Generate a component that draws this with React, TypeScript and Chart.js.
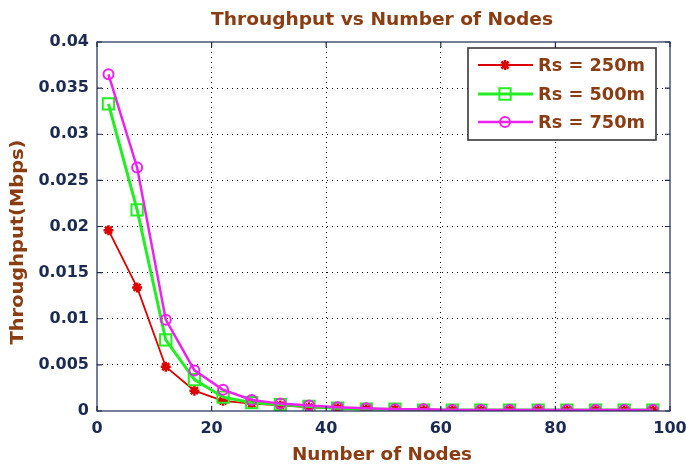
import React, { useEffect, useRef } from "react";
import { Chart, registerables } from "chart.js";

Chart.register(...registerables);

const nodes = [2, 7, 12, 17, 22, 27, 32, 37, 42, 47, 52, 57, 62, 67, 72, 77, 82, 87, 92, 97];
const rs250 = [0.0196, 0.0134, 0.0048, 0.0022, 0.0011, 0.0008, 0.0006, 0.0004, 0.0003, 0.0002, 0.0002, 0.0001, 0.0001, 0.0001, 0.0001, 0.0001, 0.0001, 0.0001, 0.0001, 0.0001];
const rs500 = [0.0333, 0.0218, 0.0077, 0.0034, 0.0015, 0.0009, 0.0007, 0.0005, 0.0003, 0.0002, 0.0002, 0.0001, 0.0001, 0.0001, 0.0001, 0.0001, 0.0001, 0.0001, 0.0001, 0.0001];
const rs750 = [0.0365, 0.0264, 0.0099, 0.0044, 0.0023, 0.0012, 0.0008, 0.0006, 0.0004, 0.0003, 0.0002, 0.0002, 0.0001, 0.0001, 0.0001, 0.0001, 0.0001, 0.0001, 0.0001, 0.0001];
const seriesLabels = ["Rs = 250m", "Rs = 500m", "Rs = 750m"];
const titleText = "Throughput vs Number of Nodes";
const xTitle = "Number of Nodes";
const yTitle = "Throughput(Mbps)";

const NAVY = "#1b2a4f";
const BROWN = "#8a3c12";
const FONT = "'DejaVu Sans', Verdana, sans-serif";

const toPts = (ys: number[]) => nodes.map((x, i) => ({ x, y: ys[i] }));

function fitText(ctx: CanvasRenderingContext2D, text: string, x: number, y: number, width: number) {
  const w = ctx.measureText(text).width;
  ctx.save();
  ctx.translate(x, y);
  ctx.scale(width / w, 1);
  ctx.fillText(text, 0, 0);
  ctx.restore();
}

function drawMarker(ctx: CanvasRenderingContext2D, style: string, r: number, x: number, y: number) {
  ctx.beginPath();
  if (style === "rect") {
    const s = r * Math.SQRT1_2 * 2;
    ctx.rect(x - s / 2, y - s / 2, s, s);
    ctx.fill();
    ctx.stroke();
  } else if (style === "circle") {
    ctx.arc(x, y, r, 0, Math.PI * 2);
    ctx.fill();
    ctx.stroke();
  } else {
    for (let k = 0; k < 4; k++) {
      const ang = (k * Math.PI) / 4;
      ctx.moveTo(x + Math.cos(ang) * r, y + Math.sin(ang) * r);
      ctx.lineTo(x - Math.cos(ang) * r, y - Math.sin(ang) * r);
    }
    ctx.stroke();
  }
}

const framePlugin = {
  id: "frame",
  afterDraw(chart: any) {
    const { ctx, chartArea: a, scales } = chart;
    ctx.save();
    ctx.strokeStyle = NAVY;
    ctx.lineWidth = 1.2;
    ctx.strokeRect(a.left, a.top, a.right - a.left, a.bottom - a.top);
    const tl = 5;
    ctx.beginPath();
    scales.x.ticks.forEach((t: any) => {
      const px = scales.x.getPixelForValue(t.value);
      ctx.moveTo(px, a.bottom); ctx.lineTo(px, a.bottom - tl);
      ctx.moveTo(px, a.top); ctx.lineTo(px, a.top + tl);
    });
    scales.y.ticks.forEach((t: any) => {
      const py = scales.y.getPixelForValue(t.value);
      ctx.moveTo(a.left, py); ctx.lineTo(a.left + tl, py);
      ctx.moveTo(a.right, py); ctx.lineTo(a.right - tl, py);
    });
    ctx.stroke();

    // titles
    ctx.fillStyle = BROWN;
    ctx.font = `bold 17px ${FONT}`;
    ctx.textAlign = "center";
    ctx.textBaseline = "alphabetic";
    fitText(ctx, titleText, 382, 25, 342);
    fitText(ctx, xTitle, 382, 460, 180);
    ctx.save();
    ctx.translate(23, 242);
    ctx.rotate(-Math.PI / 2);
    fitText(ctx, yTitle, 0, 0, 205);
    ctx.restore();

    // legend
    const bx = 468, by = 48, bw = 188, bh = 92;
    ctx.fillStyle = "#fff";
    ctx.fillRect(bx, by, bw, bh);
    ctx.strokeStyle = "#2a2a2a";
    ctx.lineWidth = 1.5;
    ctx.strokeRect(bx, by, bw, bh);
    const rows = [65, 94, 122];
    chart.data.datasets.forEach((ds: any, i: number) => {
      const y = rows[i];
      ctx.strokeStyle = ds.borderColor;
      ctx.lineWidth = ds.borderWidth;
      ctx.beginPath();
      ctx.moveTo(478, y);
      ctx.lineTo(533, y);
      ctx.stroke();
      const opts = chart.getDatasetMeta(i).data[0].options;
      ctx.save();
      ctx.lineWidth = opts.borderWidth;
      ctx.strokeStyle = opts.borderColor;
      ctx.fillStyle = opts.backgroundColor;
      drawMarker(ctx, ds.pointStyle, opts.radius, 505, y);
      ctx.restore();
      ctx.fillStyle = BROWN;
      ctx.font = `bold 18px ${FONT}`;
      ctx.textAlign = "left";
      ctx.textBaseline = "middle";
      fitText(ctx, ds.label, 538, y + 1, 107);
    });
    ctx.restore();
  },
};

export default function App() {
  const ref = useRef<HTMLCanvasElement>(null);
  useEffect(() => {
    if (!ref.current) return;
    const chart = new Chart(ref.current, {
      type: "line",
      data: {
        datasets: [
          {
            label: seriesLabels[0],
            data: toPts(rs250),
            order: 3,
            borderColor: "#dd0000",
            backgroundColor: "#dd0000",
            borderWidth: 1.8,
            pointStyle: "star",
            pointRadius: 5,
            pointBorderWidth: 2.5,
            pointBorderColor: "#dd0000",
            pointBackgroundColor: "#dd0000",
          },
          {
            label: seriesLabels[1],
            data: toPts(rs500),
            order: 2,
            borderColor: "#22ee22",
            backgroundColor: "rgba(0,0,0,0)",
            borderWidth: 3,
            pointStyle: "rect",
            pointRadius: 8,
            pointBorderWidth: 2,
            pointBorderColor: "#22ee22",
            pointBackgroundColor: "rgba(0,0,0,0)",
          },
          {
            label: seriesLabels[2],
            data: toPts(rs750),
            order: 1,
            borderColor: "#ee22ee",
            backgroundColor: "rgba(0,0,0,0)",
            borderWidth: 2.5,
            pointStyle: "circle",
            pointRadius: 5,
            pointBorderWidth: 2,
            pointBorderColor: "#ee22ee",
            pointBackgroundColor: "rgba(0,0,0,0)",
          },
        ],
      },
      options: {
        animation: false,
        responsive: false,
        maintainAspectRatio: false,
        layout: { padding: { top: 42, right: 16, left: 0, bottom: 0 } },
        plugins: { legend: { display: false }, title: { display: false }, tooltip: { enabled: false } },
        scales: {
          x: {
            type: "linear",
            min: 0,
            max: 100,
            ticks: { stepSize: 20, color: NAVY, font: { family: FONT, size: 16, weight: "bold" }, padding: 8, maxRotation: 0 },
            grid: {
              drawTicks: false,
              color: (c: any) => (c.tick && (c.tick.value === 0 || c.tick.value === 100) ? "rgba(0,0,0,0)" : "#000"),
              lineWidth: 1,
            },
            border: { display: false, dash: [1, 4] },
            afterFit: (s: any) => { s.height = 57; s.paddingRight = 0; s.paddingLeft = 0; },
          },
          y: {
            min: 0,
            max: 0.04,
            ticks: {
              stepSize: 0.005,
              color: NAVY,
              font: { family: FONT, size: 16, weight: "bold" },
              padding: 8,
              callback: (v: any) => String(Number(Number(v).toFixed(3))),
            },
            grid: {
              drawTicks: false,
              color: (c: any) => (c.tick && (c.tick.value === 0 || Math.abs(c.tick.value - 0.04) < 1e-9) ? "rgba(0,0,0,0)" : "#000"),
              lineWidth: 1,
            },
            border: { display: false, dash: [1, 4] },
            afterFit: (s: any) => { s.width = 97; },
          },
        },
      },
      plugins: [framePlugin],
    });
    return () => chart.destroy();
  }, []);
  return (
    <div style={{ position: "absolute", left: 0, top: 0, width: 686, height: 468, background: "#fff" }}>
      <canvas ref={ref} width={686} height={468} style={{ width: 686, height: 468 }} />
    </div>
  );
}
